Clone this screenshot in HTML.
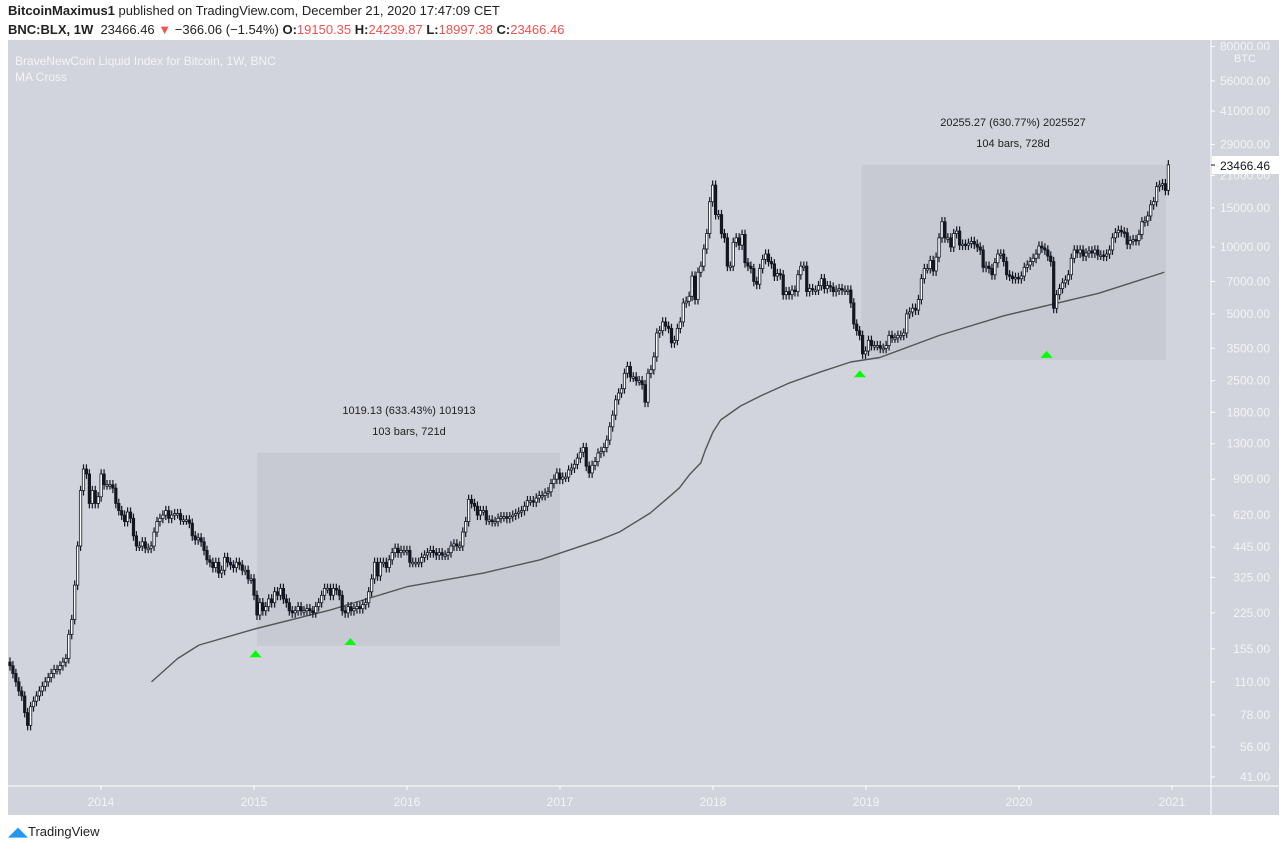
<!DOCTYPE html>
<html><head><meta charset="utf-8"><style>
body{margin:0;width:1286px;height:852px;background:#fff;font-family:"Liberation Sans",sans-serif;overflow:hidden;position:relative}
.hdr{position:absolute;left:8px;font-size:13px;color:#222;white-space:nowrap}
.r{color:#ef5350}
</style></head><body>
<div class="hdr" style="top:3px"><b>BitcoinMaximus1</b> published on TradingView.com, December 21, 2020 17:47:09 CET</div>
<div class="hdr" style="top:22px"><b>BNC:BLX, 1W</b>&nbsp; 23466.46 <span class="r">▼</span> −366.06 (−1.54%) <b>O:</b><span class="r">19150.35</span> <b>H:</b><span class="r">24239.87</span> <b>L:</b><span class="r">18997.38</span> <b>C:</b><span class="r">23466.46</span></div>
<svg id="chart" width="1286" height="852" style="position:absolute;left:0;top:0"></svg>
<div style="position:absolute;left:8px;top:824px;font-size:13px;color:#222"><span style="color:#2196f3">◢◣</span>TradingView</div>
<script>
const closes2013=[130,120,110,100,95,80,70,85,90,95,100,105,110,115,120,125,125,130,135,140,180,210,300,450,800,1000,950,700,800,700,750];
const closes2014=[950,850,850,850,820,700,650,620,580,640,600,500,450,450,470,440,440,450,520,580,600,620,650,600,620,630,630,590,590,590,570,500,480,490,470,430,390,380,360,380,340,350,400,380,370,360,380,370,350,350,320,320];
const closes2015=[270,220,250,230,240,260,250,280,270,290,260,250,230,225,230,240,230,230,235,230,225,240,250,270,290,290,270,290,285,270,230,225,240,230,235,240,235,245,250,280,320,380,330,380,380,360,390,420,440,420,430,430];
const closes2016=[430,380,380,380,380,400,410,420,430,420,410,420,410,410,420,450,460,450,450,520,580,730,700,680,620,650,650,590,590,580,580,600,610,610,600,610,620,630,640,650,680,720,720,710,740,760,760,780,790,860,900,960];
const closes2017=[900,920,920,990,1010,1050,1120,1190,1250,1030,960,1040,1080,1180,1200,1250,1350,1550,1750,2050,2200,2300,2700,2900,2600,2600,2500,2500,2400,2000,2700,2800,3200,4100,4200,4600,4400,4300,3700,3800,4300,4600,5600,5700,6000,7400,5800,7700,8200,9800,11500,16000,19000];
const closes2018=[14000,14000,11500,11000,8200,8200,10500,11000,10200,11400,8500,8200,8000,7000,6800,8000,8800,9300,8600,8400,7400,7600,7500,6100,6300,6100,6400,6300,7500,8200,8200,6300,6500,6400,6400,6700,7200,6500,6700,6600,6300,6400,6500,6400,6400,6400,5600,4500,4200,4000,3300,3400];
const closes2019=[3800,3600,3600,3600,3500,3500,3600,4000,3900,3900,4000,4000,4100,5000,5100,5300,5200,5800,7200,8000,8000,8700,7800,9000,11000,13000,11000,11000,10000,11500,11800,10200,10300,10200,10400,10600,10300,10000,9700,8100,8200,8000,7500,8500,9300,9300,8600,7500,7400,7200,7300,7200];
const closes2020=[7400,8100,8300,8600,8900,9300,10100,9900,9700,9100,8600,5300,6100,6500,6900,7100,7500,8900,9700,9400,9700,9100,9400,9600,9400,9700,9200,9200,9100,9300,9700,11000,11600,11900,11700,11600,10300,10700,10800,10700,11400,13000,13100,13800,15500,16000,18700,19000,19300,18000,23466];
const maDates=[2014.33,2014.5,2014.64,2015.0,2015.5,2016.0,2016.5,2016.87,2017.26,2017.39,2017.59,2017.69,2017.78,2017.85,2017.92,2017.95,2018.0,2018.05,2018.18,2018.31,2018.5,2018.7,2018.9,2019.09,2019.48,2019.9,2020.52,2020.95];
const maValues=[110,140,161,190,232,295,340,390,480,521,634,726,822,950,1065,1219,1469,1663,1923,2134,2443,2735,3035,3180,4000,4900,6190,7700];
const yTicks=[80000,56000,41000,29000,21000,15000,10000,7000,5000,3500,2500,1800,1300,900,620,445,325,225,155,110,78,56,41];
const xYears=[2014,2015,2016,2017,2018,2019,2020,2021];
const signalDates=[2015.01,2015.63,2018.96,2020.18];
const signalValues=[148,168,2700,3300];

const NS="http://www.w3.org/2000/svg",svg=document.getElementById('chart');
function el(t,a,p){const e=document.createElementNS(NS,t);for(const k in a)e.setAttribute(k,a[k]);(p||svg).appendChild(e);return e;}
const L=8,R=1211,T=40,B=786;
function y(v){return 777-(Math.log10(v)-Math.log10(41))*222;}
function xd(d){return 101+(d-2014)*153;}
function xw(i){return 10+i*2.94;}
let b=el('rect',{x:L,y:T,width:1271,height:775,fill:'#d1d4dc'});

let ln=el('line',{x1:R,y1:T,x2:R,y2:815,stroke:'#fff'});
ln=el('line',{x1:L,y1:B,x2:1279,y2:B,stroke:'#fff'});
let bx=el('rect',{x:xd(2015.02),y:y(1185),width:xd(2017.0)-xd(2015.02),height:y(160)-y(1185),fill:'#c7cad3'});

bx=el('rect',{x:xd(2018.97),y:y(23466),width:xd(2020.96)-xd(2018.97),height:y(3100)-y(23466),fill:'#c7cad3'});

function txt(s,x,yy,a,c,sz,nm){const t=el('text',{x:x,y:yy,'text-anchor':a,fill:c,'font-size':sz});t.textContent=s;return t;}
txt('1019.13 (633.43%) 101913',409,414,'middle','#222',11,'range-label-1');
txt('103 bars, 721d',409,435,'middle','#222',11,'range-bars-1');
txt('20255.27 (630.77%) 2025527',1013,126,'middle','#222',11,'range-label-2');
txt('104 bars, 728d',1013,147,'middle','#222',11,'range-bars-2');
txt('BraveNewCoin Liquid Index for Bitcoin, 1W, BNC',15,65,'start','#f4f4f6',12,'chart-title');
txt('MA Cross',15,81,'start','#f4f4f6',12,'indicator-title');
let pts=maDates.map((d,i)=>xd(d)+','+y(maValues[i])).join(' ');
let ma=el('polyline',{points:pts,fill:'none',stroke:'#555','stroke-width':1.4,'stroke-linejoin':'round'});

const closes=[].concat(closes2013,closes2014,closes2015,closes2016,closes2017,closes2018,closes2019,closes2020);
let prev=135;
closes.forEach((c,i)=>{const o=prev;prev=c;const x=xw(i);const hi=Math.max(o,c)*1.05,lo=Math.min(o,c)*0.95;
 const g=el('g',{});
 el('line',{x1:x,y1:y(hi),x2:x,y2:y(lo),stroke:'#131722','stroke-width':1.2},g);
 const top=y(Math.max(o,c)),h=Math.max(1.5,y(Math.min(o,c))-top);
 el('rect',{x:x-1.2,y:top,width:2.4,height:h,fill:c>=o?'#fff':'#131722',stroke:'#131722','stroke-width':0.8},g);
});
signalDates.forEach((d,i)=>{const x=xd(d),yy=y(signalValues[i]);
 const p=el('polygon',{points:`${x-6},${yy+4} ${x+6},${yy+4} ${x},${yy-3}`,fill:'#00ff00'});
 });
yTicks.forEach(v=>{const yy=y(v);
 const tk=el('line',{x1:R,y1:yy,x2:R+4,y2:yy,stroke:'#fff'});
 txt(v.toFixed(2),1270,yy+4,'end','#f4f4f6',12,'y-tick-label');});
el('rect',{x:R+14,y:50,width:50,height:14,fill:'#d1d4dc'});
txt('BTC',1245,62,'middle','#f4f4f6',11,'currency-label');
let pl=el('rect',{x:R+1,y:156,width:68,height:18,fill:'#fff'});
el('line',{x1:R,y1:165,x2:R+4,y2:165,stroke:'#131722'});
txt('23466.46',1270,170,'end','#131722',12,'last-price-label');
xYears.forEach(yr=>{const x=xd(yr);
 const tk=el('line',{x1:x,y1:B,x2:x,y2:B+4,stroke:'#fff'});
 txt(String(yr),x,806,'middle','#f4f4f6',12,'x-tick-label');});
</script>
</body></html>
